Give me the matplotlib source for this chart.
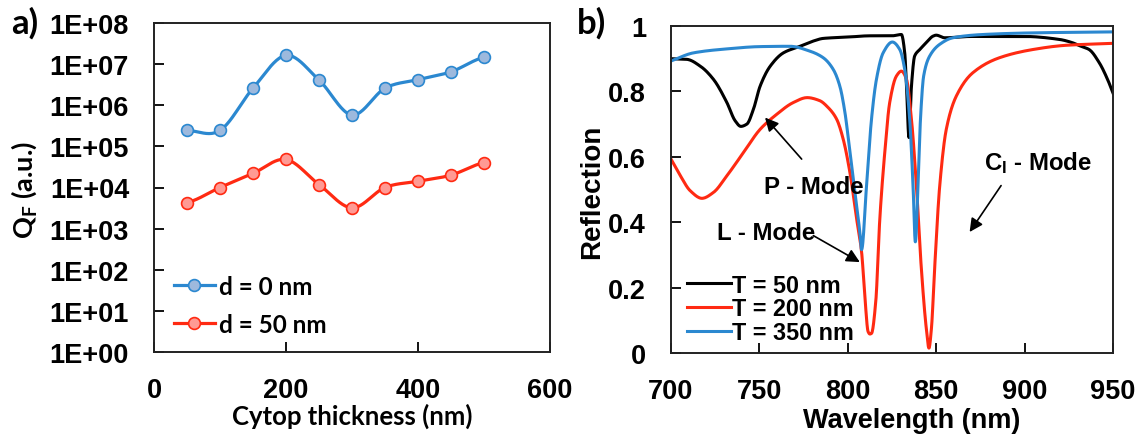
import numpy as np
import matplotlib
matplotlib.use("Agg")
import matplotlib.pyplot as plt
from matplotlib.ticker import FixedLocator, NullLocator, FixedFormatter

# ---------------- data: panel a ----------------
thickness = [50, 100, 150, 200, 250, 300, 350, 400, 450, 500]
qf_d0 = [2.44e5, 2.44e5, 2.6e6, 1.63e7, 4.1e6, 5.8e5, 2.6e6, 4.2e6, 6.5e6, 1.46e7]
qf_d50 = [4.3e3, 1.0e4, 2.2e4, 4.8e4, 1.18e4, 3.2e3, 1.0e4, 1.42e4, 2.0e4, 4.0e4]
ytick_vals_a = [1e0, 1e1, 1e2, 1e3, 1e4, 1e5, 1e6, 1e7, 1e8]
ytick_labels_a = ["1E+00", "1E+01", "1E+02", "1E+03", "1E+04", "1E+05", "1E+06", "1E+07", "1E+08"]
xtick_vals_a = [0, 200, 400, 600]

# ---------------- data: panel b ----------------
wl_t50 = [700, 709, 716.6, 724, 731.6, 736.3, 739.5, 742.9, 746.6, 750.4, 756.1, 763.6,
          773, 780.5, 786, 800, 812.5, 825, 830.3, 832.2, 833.2, 834.6, 836, 837.8,
          840.7, 844.4, 848.2, 850, 854.8, 870, 900, 919.6, 927, 931, 936.5, 942.2,
          946.9, 950]
r_t50 = [0.900, 0.898, 0.877, 0.837, 0.766, 0.710, 0.693, 0.700, 0.745, 0.816, 0.877, 0.918,
         0.938, 0.954, 0.962, 0.966, 0.970, 0.970, 0.974, 0.918, 0.816, 0.659, 0.816, 0.908,
         0.928, 0.949, 0.969, 0.972, 0.964, 0.968, 0.968, 0.959, 0.949, 0.940, 0.928, 0.888,
         0.837, 0.795]

wl_t200 = [700, 705.3, 710.9, 717.5, 724, 731.6, 741, 750.4, 759.8, 769.2, 777, 784,
           789, 793.7, 797.4, 801.2, 805, 807.8, 809.6, 811.5, 812.5, 813.4, 815.8, 818.1,
           820.9, 823.7, 827.5, 830.3, 833.2, 836, 838.8, 841.6, 844.4, 845.9, 847.3,
           849.1, 852, 855.7, 861.4, 870.7, 885.8, 904.6, 923.4, 950]
r_t200 = [0.593, 0.542, 0.496, 0.473, 0.491, 0.542, 0.613, 0.684, 0.730, 0.766, 0.781, 0.772,
          0.750, 0.715, 0.654, 0.552, 0.410, 0.309, 0.176, 0.065, 0.058, 0.060, 0.156, 0.410,
          0.613, 0.766, 0.847, 0.862, 0.837, 0.715, 0.512, 0.258, 0.075, 0.015, 0.075,
          0.258, 0.512, 0.684, 0.786, 0.857, 0.903, 0.928, 0.941, 0.947]

wl_t350 = [700, 712.8, 731.6, 750.4, 767.3, 778.6, 786.1, 791.8, 795.5, 798.4, 801.2, 804,
           806.8, 807.8, 810.6, 813.4, 816.2, 820, 825.2, 829.4, 832.2, 835, 836.9, 838.2,
           839.7, 841.1, 842.9, 846.3, 852, 859.4, 876.4, 904.6, 950]
r_t350 = [0.893, 0.918, 0.930, 0.937, 0.938, 0.923, 0.903, 0.867, 0.816, 0.735, 0.613, 0.491,
          0.370, 0.316, 0.512, 0.715, 0.837, 0.918, 0.951, 0.928, 0.867, 0.715, 0.512, 0.340,
          0.512, 0.715, 0.847, 0.908, 0.944, 0.964, 0.974, 0.979, 0.982]

xtick_vals_b = [700, 750, 800, 850, 900, 950]
ytick_vals_b = [0, 0.2, 0.4, 0.6, 0.8, 1.0]
ytick_labels_b = ["0", "0.2", "0.4", "0.6", "0.8", "1"]

BLUE = "#2B88D0"
BLUE_FACE = "#9DB9DD"
RED = "#FF2A12"
RED_FACE = "#FF9A94"

AR = "Liberation Sans"
CAL = "Lato"
plt.rcParams["font.family"] = [AR, "DejaVu Sans"]
plt.rcParams["font.weight"] = "bold"
plt.rcParams["mathtext.fontset"] = "custom"
plt.rcParams["mathtext.rm"] = "Lato:bold"
plt.rcParams["mathtext.it"] = "Liberation Sans:bold"


def catmull_rom(x, y, n=24):
    x = np.asarray(x, float)
    y = np.asarray(y, float)
    px = np.concatenate([[2 * x[0] - x[1]], x, [2 * x[-1] - x[-2]]])
    py = np.concatenate([[y[0]], y, [y[-1]]])
    xs, ys = [], []
    t = np.linspace(0, 1, n, endpoint=False)
    for i in range(1, len(px) - 2):
        for arr, out in ((px, xs), (py, ys)):
            p0, p1, p2, p3 = arr[i - 1], arr[i], arr[i + 1], arr[i + 2]
            m1 = (p2 - p0) / 2
            m2 = (p3 - p1) / 2
            h00 = 2 * t**3 - 3 * t**2 + 1
            h10 = t**3 - 2 * t**2 + t
            h01 = -2 * t**3 + 3 * t**2
            h11 = t**3 - t**2
            out.append(h00 * p1 + h10 * m1 + h01 * p2 + h11 * m2)
    xs.append([x[-1]])
    ys.append([y[-1]])
    return np.concatenate(xs), np.concatenate(ys)


def pchip(x, y, n=12):
    x = np.asarray(x, float)
    y = np.asarray(y, float)
    h = np.diff(x)
    d = np.diff(y) / h
    m = np.zeros_like(y)
    for k in range(1, len(x) - 1):
        if d[k - 1] * d[k] <= 0:
            m[k] = 0
        else:
            w1 = 2 * h[k] + h[k - 1]
            w2 = h[k] + 2 * h[k - 1]
            m[k] = (w1 + w2) / (w1 / d[k - 1] + w2 / d[k])
    m[0] = d[0]
    m[-1] = d[-1]
    xs, ys = [], []
    t = np.linspace(0, 1, n, endpoint=False)
    for k in range(len(x) - 1):
        h00 = 2 * t**3 - 3 * t**2 + 1
        h10 = t**3 - 2 * t**2 + t
        h01 = -2 * t**3 + 3 * t**2
        h11 = t**3 - t**2
        xs.append(x[k] + t * h[k])
        ys.append(h00 * y[k] + h10 * h[k] * m[k] + h01 * y[k + 1] + h11 * h[k] * m[k + 1])
    xs.append([x[-1]])
    ys.append([y[-1]])
    return np.concatenate(xs), np.concatenate(ys)


W, H = 1140, 439
fig = plt.figure(figsize=(W / 100, H / 100), dpi=100)

# ================= panel a =================
axa = fig.add_axes([154 / W, 1 - 353 / H, 396 / W, 329 / H])
axa.set_yscale("log")
for xs_, ys_, lc, fc, lab in ((thickness, qf_d0, BLUE, BLUE_FACE, "d = 0 nm"),
                             (thickness, qf_d50, RED, RED_FACE, "d = 50 nm")):
    sx, sy = catmull_rom(xs_, np.log10(ys_))
    axa.plot(sx, 10 ** sy, color=lc, lw=2.3, zorder=2)
    axa.plot(xs_, ys_, linestyle="none", marker="o", ms=8.5, mfc=fc, mec=lc, mew=1.2, zorder=3)
    axa.plot([], [], color=lc, lw=2.3, marker="o", ms=8.5, mfc=fc, mec=lc, mew=1.2, label=lab)
axa.set_xlim(0, 600)
axa.set_ylim(1, 1e8)
axa.yaxis.set_major_locator(FixedLocator(ytick_vals_a))
axa.yaxis.set_major_formatter(FixedFormatter(ytick_labels_a))
axa.yaxis.set_minor_locator(NullLocator())
axa.xaxis.set_major_locator(FixedLocator(xtick_vals_a))
axa.tick_params(direction="in", length=7, width=1.3, labelsize=19.5, pad=18)
for sp in axa.spines.values():
    sp.set_linewidth(1.4)
    sp.set_color("#222222")
axa.set_xlabel("Cytop thickness (nm)", fontfamily=CAL, fontsize=18.5, fontweight="bold")
axa.xaxis.set_label_coords(0.5, -0.155)
axa.set_ylabel(r"Q$_\mathrm{F}$ (a.u.)", fontfamily=CAL, fontsize=19.5, fontweight="bold")
axa.yaxis.set_label_coords(-0.29, 0.495)
axa.legend(loc="upper left", bbox_to_anchor=(0.05, 0.235), frameon=False,
           handlelength=1.7, handletextpad=0.15, labelspacing=0.62,
           borderpad=0, borderaxespad=0, prop={"family": CAL, "weight": "bold", "size": 17.5})
fig.text(11 / W, 1 - 34 / H, "a)", fontfamily=CAL, fontsize=25, fontweight="bold",
         ha="left", va="baseline")

# ================= panel b =================
axb = fig.add_axes([671 / W, 1 - 354 / H, 442 / W, 327 / H])
for wl, rr, col, lab in ((wl_t50, r_t50, "black", "T = 50 nm"),
                         (wl_t200, r_t200, RED, "T = 200 nm"),
                         (wl_t350, r_t350, BLUE, "T = 350 nm")):
    sx, sy = pchip(wl, rr)
    axb.plot(sx, sy, color=col, lw=2.2, label=lab)
axb.set_xlim(700, 950)
axb.set_ylim(0, 1)
axb.xaxis.set_major_locator(FixedLocator(xtick_vals_b))
axb.yaxis.set_major_locator(FixedLocator(ytick_vals_b))
axb.yaxis.set_major_formatter(FixedFormatter(ytick_labels_b))
axb.tick_params(direction="in", length=7, width=1.3, labelsize=19.5, pad=18)
for sp in axb.spines.values():
    sp.set_linewidth(1.4)
    sp.set_color("#222222")
axb.set_xlabel("Wavelength (nm)", fontsize=19.5, fontweight="bold")
axb.xaxis.set_label_coords(0.545, -0.165)
axb.set_ylabel("Reflection", fontsize=20, fontweight="bold")
axb.yaxis.set_label_coords(-0.15, 0.495)
axb.legend(loc="upper left", bbox_to_anchor=(0.037, 0.243), frameon=False,
           fontsize=16.8, handlelength=1.85, handletextpad=0.05, labelspacing=0.04,
           borderpad=0, borderaxespad=0)

arrow_kw = dict(arrowstyle="-|>", color="black", lw=1.2, mutation_scale=20, shrinkA=0, shrinkB=0)
axb.annotate("", xy=(753.2, 0.72), xytext=(773.9, 0.593), arrowprops=arrow_kw)
axb.text(752.5, 0.509, "P - Mode", fontsize=17.3, fontweight="bold", ha="left", va="center")
axb.annotate("", xy=(806.8, 0.278), xytext=(780.5, 0.359), arrowprops=arrow_kw)
axb.text(726, 0.37, "L - Mode", fontsize=17.3, fontweight="bold", ha="left", va="center")
axb.annotate("", xy=(868.9, 0.37), xytext=(886.7, 0.512), arrowprops=arrow_kw)
axb.text(877.3, 0.583, r"C$_\mathit{l}$ - Mode", fontsize=17.3, fontweight="bold",
         ha="left", va="center")
fig.text(577 / W, 1 - 34 / H, "b)", fontfamily=CAL, fontsize=25, fontweight="bold",
         ha="left", va="baseline")

fig.savefig("out.png", dpi=100)
